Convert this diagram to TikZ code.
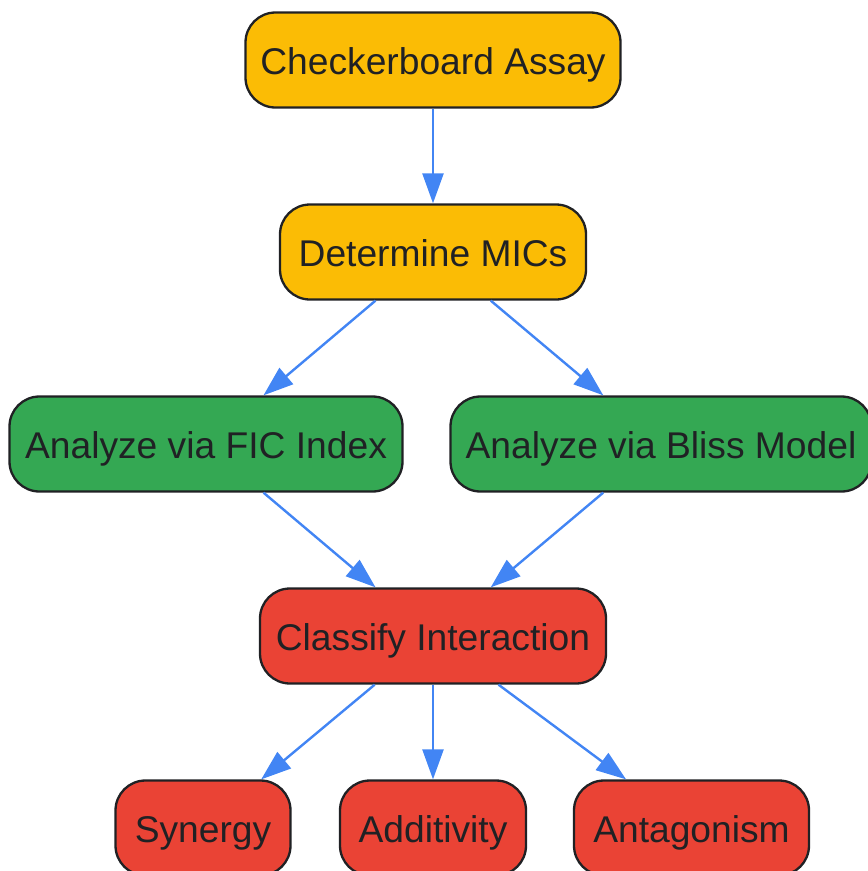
\documentclass[tikz,border=0pt]{standalone}
\usepackage{fontspec}
\setmainfont{Liberation Sans}
\usetikzlibrary{arrows.meta}
\definecolor{cyellow}{HTML}{FBBC05}
\definecolor{cgreen}{HTML}{34A853}
\definecolor{cred}{HTML}{EA4335}
\definecolor{cblue}{HTML}{4285F4}
\definecolor{cborder}{HTML}{202124}
\definecolor{ctext}{HTML}{202124}
\begin{document}
\begin{tikzpicture}[x=1pt,y=-1pt,
  box/.style={draw=cborder, line width=2.3pt, rounded corners=30pt,
    minimum height=95pt, inner xsep=8pt, inner ysep=0pt,
    text height=28.5pt, text depth=0pt, text=ctext,
    font=\fontsize{37.2pt}{44pt}\selectfont},
  yel/.style={box, fill=cyellow},
  grn/.style={box, fill=cgreen},
  rd/.style={box, fill=cred},
  arr/.style={draw=cblue, line width=2.4pt, -{Triangle[length=30pt,width=21pt]}}]
\useasboundingbox (0,0) rectangle (868,871);
\node[yel, minimum width=375pt] (ca) at (433,60) {Checkerboard Assay};
\node[yel, minimum width=306pt] (mic) at (433,252) {Determine MICs};
\node[grn, minimum width=393pt] (fic) at (206,444) {Analyze via FIC Index};
\node[grn, minimum width=421pt] (bliss) at (661,444) {Analyze via Bliss Model};
\node[rd, minimum width=346pt] (cls) at (433,636) {Classify Interaction};
\node[rd, minimum width=175pt] (syn) at (203,828) {Synergy};
\node[rd, minimum width=186pt] (add) at (433,828) {Additivity};
\node[rd, minimum width=235pt] (ant) at (691.5,828) {Antagonism};
\draw[arr] (ca) -- (mic);
\draw[arr] (mic) -- (fic);
\draw[arr] (mic) -- (bliss);
\draw[arr] (fic) -- (cls);
\draw[arr] (bliss) -- (cls);
\draw[arr] (cls) -- (syn);
\draw[arr] (cls) -- (add);
\draw[arr] (cls) -- (ant);
\end{tikzpicture}
\end{document}
